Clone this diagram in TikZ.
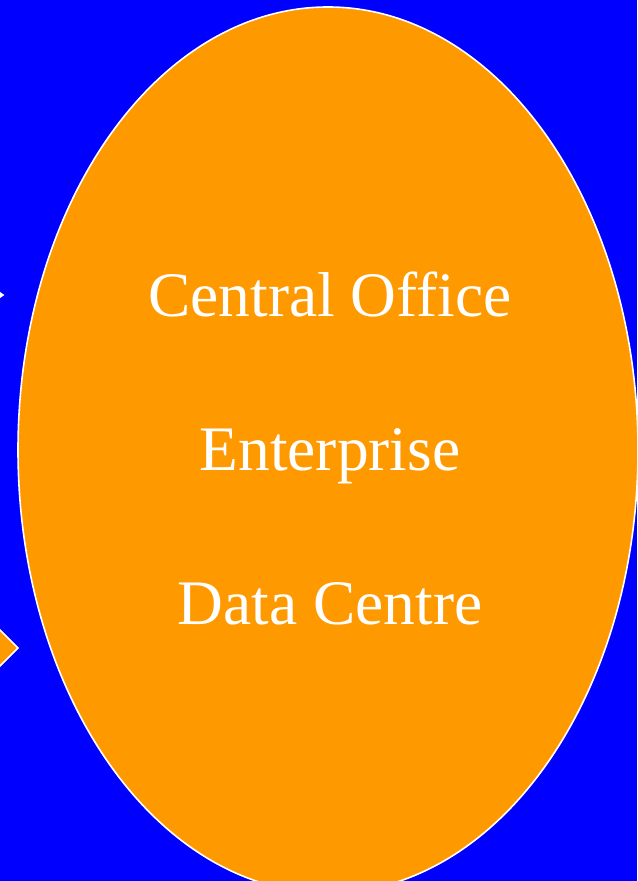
\documentclass[tikz,border=0pt]{standalone}
\usepackage{fontspec}
\setmainfont{Liberation Serif}
\usetikzlibrary{shapes.geometric}
\definecolor{bgblue}{HTML}{0000FF}
\definecolor{dcorange}{HTML}{FF9900}
\begin{document}
\begin{tikzpicture}[x=0.5pt,y=-0.5pt]
      \tikzstyle{site}=[ellipse,draw=white,line width=0.8pt,fill=dcorange,inner sep=0pt,minimum width=310pt,minimum height=443pt]
      \tikzstyle{label}=[text=white,anchor=base,inner sep=0pt,font=\fontsize{31.7}{36}\selectfont]
      \tikzstyle{tip}=[draw=white,line width=0.8pt,line join=miter]
      \fill[bgblue] (0,0) rectangle (637,881);
      \useasboundingbox (0,0) rectangle (637,881);
      \clip (0,0) rectangle (637,881);
      % arrow tips coming in from the left
      \filldraw[tip,fill=white] (-10,286) -- (3,295) -- (-10,304) -- cycle;
      \filldraw[tip,fill=dcorange] (-30,600) -- (18,648) -- (-30,696) -- cycle;
      \node[site] (dc) at (328,450) {};
      \node[label] (co) at (330,317) {Central Office};
      \node[label] (ent) at (330,470) {Enterprise};
      \node[label] (data) at (330,624) {Data Centre};
\end{tikzpicture}
\end{document}
